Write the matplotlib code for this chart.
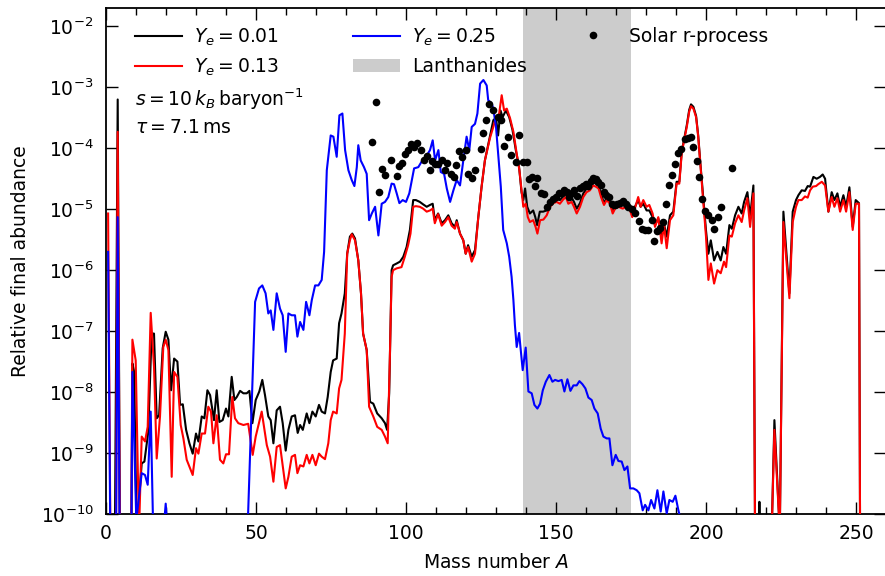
import numpy as np
import matplotlib
matplotlib.use("Agg")
import matplotlib.pyplot as plt
from matplotlib.ticker import MultipleLocator, FixedLocator, NullLocator, LogFormatterMathtext
from matplotlib.lines import Line2D
from matplotlib.patches import Patch

plt.rcParams['font.family'] = ['DejaVu Sans']
plt.rcParams['mathtext.fontset'] = 'dejavusans'

# (mass number A, log10 of relative final abundance)
black_pts = [(0.7,-14),(2.5,-14),(3.9,-3.20),(5.0,-14),(8.0,-14),(8.8,-7.53),(9.4,-7.67),(10.2,-10.3),(11.9,-9.17),(12.8,-9.14),(14.1,-8.65),(15.2,-7.04),(16.0,-7.04),(16.9,-8.43),(17.7,-8.38),(18.9,-7.28),(19.9,-7.01),(20.8,-7.14),(21.7,-7.97),(22.7,-7.45),(23.8,-7.50),(24.7,-8.21),(25.6,-8.20),(26.7,-8.62),(27.8,-8.84),(28.9,-9.01),(30.0,-8.68),(30.8,-8.81),(31.9,-8.40),(32.8,-8.43),(33.8,-7.97),(34.7,-8.05),(36.0,-8.46),(36.9,-7.97),(37.8,-8.49),(38.9,-8.46),(40.0,-8.27),(40.8,-8.40),(41.9,-7.75),(42.8,-8.13),(43.6,-8.08),(44.7,-7.98),(45.8,-8.02),(46.9,-8.02),(47.8,-7.98),(48.8,-8.51),(49.9,-8.13),(51.1,-7.99),(52.1,-7.80),(53.0,-8.05),(54.1,-8.40),(54.9,-8.46),(55.8,-8.84),(56.9,-8.30),(58.0,-8.24),(58.9,-8.51),(59.9,-8.96),(60.8,-8.62),(61.9,-8.40),(63.0,-8.38),(63.9,-8.67),(64.7,-8.54),(65.6,-8.62),(66.9,-8.35),(67.8,-8.51),(68.8,-8.32),(69.9,-8.40),(71.0,-8.21),(71.9,-8.32),(73.0,-8.35),(73.9,-8.08),(74.9,-7.67),(75.7,-7.48),(76.9,-7.45),(77.7,-6.87),(78.5,-6.71),(79.6,-6.38),(80.4,-5.73),(81.3,-5.45),(82.1,-5.40),(83.0,-5.48),(84.1,-5.84),(85.0,-6.38),(85.7,-7.04),(86.9,-7.31),(88.0,-8.16),(89.1,-8.19),(90.4,-8.35),(91.9,-8.43),(93.0,-8.51),(93.7,-8.62),(94.4,-8.02),(95.2,-6.00),(95.7,-5.92),(96.9,-5.89),(98.0,-5.86),(99.1,-5.78),(100.2,-5.62),(101.3,-5.34),(102.4,-4.85),(103.3,-4.85),(104.6,-4.88),(105.7,-4.92),(106.9,-4.96),(108.0,-4.93),(108.9,-4.91),(109.6,-5.18),(110.7,-5.07),(111.9,-5.23),(113.0,-5.18),(114.1,-5.10),(115.2,-5.23),(116.3,-5.29),(116.9,-5.18),(118.0,-5.40),(119.1,-5.51),(119.9,-5.73),(120.7,-5.59),(121.9,-5.78),(123.0,-5.67),(124.1,-5.13),(125.2,-4.63),(126.3,-4.20),(128.0,-3.80),(129.1,-3.54),(130.0,-3.50),(130.7,-3.79),(131.5,-3.38),(132.2,-3.49),(133.3,-3.38),(134.4,-3.49),(135.5,-3.70),(136.6,-4.03),(137.7,-4.31),(138.5,-4.72),(139.1,-4.85),(139.7,-4.66),(140.4,-4.96),(141.3,-5.07),(142.4,-5.02),(143.1,-5.13),(143.7,-5.26),(144.6,-5.04),(145.7,-5.04),(146.9,-5.02),(148.0,-4.91),(149.1,-4.84),(150.2,-4.82),(151.3,-4.85),(152.4,-4.79),(153.3,-4.73),(154.1,-4.84),(155.2,-4.81),(156.0,-4.88),(156.9,-4.99),(158.0,-4.90),(159.1,-4.74),(160.2,-4.66),(161.3,-4.63),(162.4,-4.55),(163.3,-4.58),(164.2,-4.62),(165.0,-4.74),(166.0,-4.91),(166.9,-4.80),(168.0,-4.88),(168.9,-5.02),(169.6,-4.92),(170.7,-4.91),(172.2,-4.93),(173.5,-4.92),(174.6,-4.99),(175.4,-5.07),(176.3,-4.96),(177.4,-4.85),(178.2,-4.96),(179.1,-4.91),(180.2,-5.02),(181.1,-5.02),(182.2,-5.13),(183.0,-5.26),(184.1,-5.15),(185.2,-5.45),(186.0,-5.24),(186.9,-5.45),(188.0,-5.10),(189.1,-5.04),(190.2,-4.55),(191.1,-4.55),(191.9,-4.06),(192.7,-3.85),(193.6,-3.62),(194.4,-3.37),(195.0,-3.28),(195.8,-3.32),(196.7,-3.47),(197.4,-3.79),(198.2,-4.29),(199.1,-4.82),(200.0,-5.35),(200.8,-5.73),(201.6,-5.51),(202.7,-5.84),(203.8,-5.70),(204.9,-5.84),(205.8,-5.62),(206.7,-5.73),(207.8,-5.26),(208.6,-5.32),(209.7,-5.10),(210.8,-4.96),(211.9,-5.07),(212.7,-4.88),(213.8,-4.72),(214.7,-5.13),(215.8,-4.61),(216.7,-14),(217.0,-14),(217.8,-9.80),(218.6,-14),(221.9,-10.3),(222.8,-8.46),(224.6,-10.3),(225.8,-5.04),(227.8,-6.38),(228.9,-5.04),(230.0,-4.85),(230.8,-4.77),(231.9,-4.69),(233.0,-4.70),(233.9,-4.62),(234.7,-4.63),(235.8,-4.47),(236.9,-4.50),(238.0,-4.47),(238.9,-4.43),(239.7,-4.50),(240.8,-5.04),(241.9,-4.72),(242.8,-4.85),(243.8,-4.74),(244.7,-4.96),(245.8,-4.77),(246.7,-4.96),(247.8,-4.64),(248.9,-5.29),(249.9,-4.85),(251.0,-4.90),(251.6,-14)]

red_pts = [(0.7,-5.07),(2.0,-14),(3.0,-14),(3.9,-3.73),(5.0,-14),(8.0,-14),(8.8,-7.14),(9.9,-7.48),(11.0,-10.3),(11.9,-8.73),(13.0,-8.81),(13.9,-8.57),(14.9,-6.70),(16.0,-7.58),(16.9,-9.09),(18.0,-8.40),(19.1,-7.26),(19.9,-7.14),(20.8,-7.31),(21.9,-9.39),(22.7,-7.67),(23.8,-7.75),(24.9,-8.54),(25.8,-8.76),(26.9,-9.11),(28.0,-9.25),(28.9,-9.36),(30.0,-8.92),(30.8,-9.01),(31.9,-8.68),(33.0,-8.68),(34.1,-8.24),(35.0,-8.32),(35.8,-8.84),(36.9,-8.38),(38.0,-9.11),(39.1,-9.17),(40.0,-9.02),(41.0,-9.02),(42.1,-8.08),(43.0,-8.43),(44.1,-8.51),(45.8,-8.54),(47.4,-8.52),(48.9,-9.03),(49.9,-8.73),(51.9,-8.32),(53.6,-8.87),(54.7,-9.06),(55.8,-9.47),(56.9,-8.90),(58.0,-8.87),(59.9,-9.58),(60.8,-9.39),(61.9,-9.06),(63.0,-9.03),(63.8,-9.33),(64.7,-9.20),(65.8,-9.22),(66.9,-9.03),(67.8,-9.17),(68.8,-9.03),(69.9,-9.20),(71.0,-9.01),(71.9,-9.06),(73.0,-9.10),(74.1,-8.84),(74.9,-8.46),(75.7,-8.32),(76.9,-8.35),(77.7,-7.94),(78.5,-7.80),(79.6,-7.04),(80.4,-5.73),(81.3,-5.51),(81.9,-5.41),(83.0,-5.51),(84.1,-5.84),(85.0,-6.38),(85.7,-7.04),(86.9,-7.31),(87.7,-8.24),(89.1,-8.40),(90.4,-8.57),(91.9,-8.62),(93.0,-8.73),(93.9,-8.84),(94.6,-7.48),(95.2,-6.11),(95.7,-6.00),(96.9,-5.97),(98.5,-5.95),(99.6,-5.78),(100.7,-5.59),(101.5,-5.40),(102.4,-4.96),(103.3,-4.95),(104.6,-4.96),(105.7,-4.99),(106.9,-5.04),(108.0,-5.02),(108.9,-4.99),(109.6,-5.23),(110.7,-5.08),(111.9,-5.27),(113.0,-5.21),(114.1,-5.13),(115.2,-5.27),(116.3,-5.32),(116.9,-5.21),(118.0,-5.40),(119.1,-5.51),(119.9,-5.73),(120.7,-5.62),(121.9,-5.86),(123.0,-5.73),(124.1,-5.13),(125.2,-4.63),(126.3,-4.20),(128.0,-3.83),(129.1,-3.65),(130.0,-3.49),(131.0,-3.45),(131.9,-3.13),(132.7,-3.38),(133.6,-3.35),(134.7,-3.51),(135.8,-3.73),(136.9,-4.09),(137.8,-4.36),(138.6,-4.74),(139.1,-4.96),(139.9,-4.91),(140.6,-5.13),(141.3,-5.21),(142.4,-5.18),(143.2,-5.29),(143.8,-5.40),(144.7,-5.18),(145.8,-5.17),(146.9,-5.10),(148.0,-4.96),(149.1,-4.90),(150.2,-4.88),(151.3,-4.91),(152.4,-4.84),(153.3,-4.80),(154.1,-4.91),(155.2,-4.88),(156.0,-4.96),(156.9,-5.07),(158.0,-4.96),(159.1,-4.80),(160.2,-4.72),(161.3,-4.69),(162.4,-4.61),(163.3,-4.63),(164.2,-4.66),(165.0,-4.80),(166.0,-4.93),(166.9,-4.85),(168.0,-4.91),(168.9,-5.07),(169.7,-4.99),(170.8,-4.96),(172.2,-4.99),(173.6,-4.96),(174.7,-5.02),(175.4,-5.13),(176.3,-4.99),(177.4,-4.80),(178.2,-4.96),(179.1,-4.85),(180.2,-4.96),(181.1,-4.93),(182.2,-5.07),(183.0,-5.29),(184.1,-5.13),(185.2,-5.56),(186.0,-5.26),(186.9,-5.64),(188.0,-5.18),(189.1,-5.10),(190.2,-4.58),(191.1,-4.58),(191.9,-4.09),(192.7,-3.87),(193.6,-3.65),(194.4,-3.40),(195.0,-3.31),(195.8,-3.35),(196.7,-3.49),(197.4,-3.81),(198.2,-4.31),(199.1,-4.85),(200.0,-5.45),(200.8,-6.16),(201.6,-5.89),(202.7,-6.22),(203.8,-6.00),(204.9,-6.05),(206.0,-5.86),(206.7,-5.95),(207.8,-5.43),(208.6,-5.45),(209.7,-5.23),(210.8,-5.10),(211.9,-5.21),(212.7,-5.02),(213.8,-4.82),(214.7,-5.29),(215.8,-4.74),(216.7,-14),(221.9,-10.3),(222.8,-8.62),(224.6,-10.3),(225.8,-5.21),(227.8,-6.46),(228.9,-5.21),(230.0,-4.96),(230.8,-4.85),(231.9,-4.85),(233.0,-4.79),(233.9,-4.81),(234.7,-4.69),(235.6,-4.63),(236.7,-4.62),(237.4,-4.59),(238.6,-4.55),(239.7,-4.61),(240.8,-5.04),(241.9,-4.80),(242.8,-4.96),(243.8,-4.82),(244.7,-5.04),(245.8,-4.85),(246.7,-5.04),(247.8,-4.72),(248.9,-5.34),(249.9,-4.91),(251.0,-4.91),(251.6,-14)]

blue_pts = [(0.7,-5.70),(2.0,-14),(3.0,-14),(3.9,-5.13),(5.0,-14),(8.0,-14),(8.8,-7.67),(10.1,-10.1),(11.9,-9.33),(13.0,-9.36),(13.9,-9.52),(14.9,-8.32),(15.7,-10.2),(19.3,-10.2),(19.9,-9.83),(20.4,-10.2),(47.3,-10.1),(49.7,-6.52),(51.0,-6.30),(52.1,-6.25),(53.2,-6.38),(54.1,-6.71),(54.9,-6.66),(55.8,-6.98),(56.9,-6.38),(58.0,-6.63),(58.9,-6.74),(59.9,-7.34),(60.8,-6.71),(61.9,-6.74),(63.0,-6.74),(63.8,-7.09),(64.7,-6.85),(65.8,-6.98),(66.7,-6.52),(67.8,-6.74),(68.6,-6.49),(69.7,-6.25),(70.8,-6.25),(71.9,-6.16),(72.7,-5.70),(73.6,-4.36),(74.9,-3.79),(75.8,-3.81),(76.9,-4.14),(77.8,-3.46),(78.8,-3.43),(79.7,-4.03),(80.8,-4.36),(81.9,-4.52),(82.8,-4.62),(83.6,-4.31),(84.1,-3.95),(84.9,-4.20),(86.0,-4.31),(86.9,-4.42),(87.7,-5.18),(88.6,-5.07),(89.7,-4.96),(90.8,-5.43),(91.9,-4.91),(93.0,-4.88),(94.1,-4.80),(95.2,-4.58),(96.0,-4.59),(96.9,-4.74),(97.8,-4.90),(98.9,-4.85),(100.0,-4.88),(101.1,-4.74),(102.7,-4.33),(104.1,-4.31),(105.2,-4.22),(106.3,-4.17),(108.0,-4.03),(108.9,-3.87),(109.7,-4.20),(110.8,-4.03),(111.6,-4.39),(112.7,-4.42),(113.6,-4.66),(114.7,-4.88),(115.8,-4.69),(116.9,-4.52),(118.0,-4.61),(119.1,-4.20),(120.2,-3.81),(121.1,-4.03),(121.9,-3.65),(123.0,-3.60),(123.8,-3.43),(124.7,-2.94),(125.8,-2.88),(126.9,-2.97),(127.4,-3.21),(128.6,-3.27),(129.1,-3.35),(130.0,-3.65),(130.8,-4.14),(131.6,-4.63),(132.4,-5.34),(133.6,-5.56),(134.4,-5.78),(135.2,-6.11),(135.8,-6.49),(136.3,-6.90),(136.9,-7.26),(137.7,-7.03),(138.9,-7.64),(139.9,-7.27),(140.8,-7.99),(141.9,-8.02),(142.8,-8.21),(143.8,-8.27),(144.7,-8.19),(145.6,-7.97),(146.6,-7.83),(147.8,-7.72),(148.8,-7.83),(149.7,-7.80),(150.8,-7.82),(151.9,-7.80),(152.8,-7.99),(153.8,-7.79),(154.8,-7.98),(155.8,-7.89),(156.9,-7.89),(157.8,-7.82),(158.8,-7.87),(159.8,-7.94),(160.8,-8.09),(161.9,-8.13),(162.8,-8.27),(163.9,-8.35),(164.9,-8.60),(165.8,-8.73),(166.9,-8.76),(167.8,-8.76),(168.8,-9.20),(169.9,-9.03),(170.8,-9.13),(171.9,-9.14),(172.8,-9.28),(173.8,-9.22),(174.7,-9.58),(175.8,-9.58),(176.9,-9.61),(177.8,-9.66),(178.9,-9.94),(179.7,-9.85),(180.8,-9.94),(181.7,-9.77),(182.8,-9.91),(183.8,-9.61),(184.9,-9.96),(185.8,-9.63),(186.9,-9.99),(187.8,-9.77),(188.9,-9.80),(189.8,-9.70),(190.8,-9.94),(191.6,-10.1),(192.5,-14)]

solar_pts = [(88.7,-3.89),(90.0,-3.24),(90.9,-4.72),(91.9,-4.34),(93.0,-4.44),(94.9,-4.20),(96.9,-4.45),(97.7,-4.29),(98.5,-4.24),(99.8,-4.09),(100.7,-4.03),(101.7,-3.93),(102.8,-3.98),(103.8,-3.92),(104.9,-4.03),(106.1,-4.19),(106.9,-4.13),(107.9,-4.35),(108.8,-4.21),(109.6,-4.26),(110.5,-4.26),(111.9,-4.20),(112.9,-4.35),(113.8,-4.24),(114.9,-4.42),(115.9,-4.47),(116.8,-4.28),(117.7,-4.04),(118.8,-4.15),(119.9,-4.03),(120.7,-4.43),(121.9,-4.48),(123.0,-4.36),(124.9,-4.02),(125.7,-3.75),(126.7,-3.53),(127.7,-3.28),(128.9,-3.37),(130.5,-3.49),(131.6,-3.53),(132.7,-3.97),(133.9,-3.81),(134.9,-4.11),(136.7,-4.22),(137.7,-3.79),(138.9,-4.22),(140.2,-4.22),(140.9,-4.51),(142.0,-4.47),(143.0,-4.62),(143.8,-4.48),(144.9,-4.74),(145.9,-4.75),(146.9,-4.96),(148.0,-4.88),(148.9,-4.83),(150.0,-4.80),(150.9,-4.73),(151.9,-4.74),(152.7,-4.68),(153.5,-4.72),(154.2,-4.80),(155.2,-4.74),(156.0,-4.69),(156.9,-4.79),(158.0,-4.66),(159.1,-4.62),(160.0,-4.59),(160.7,-4.62),(161.5,-4.53),(162.4,-4.48),(163.3,-4.51),(164.1,-4.55),(165.0,-4.61),(165.9,-4.72),(166.8,-4.76),(167.7,-4.80),(168.6,-4.92),(169.6,-4.93),(170.4,-4.91),(171.3,-4.90),(172.2,-4.86),(173.2,-4.92),(174.0,-4.96),(175.2,-4.99),(176.4,-5.07),(177.5,-5.20),(178.6,-5.33),(179.6,-5.34),(180.7,-5.34),(181.9,-5.18),(182.7,-5.52),(183.7,-5.35),(184.6,-5.30),(185.6,-5.21),(186.8,-4.92),(187.7,-4.60),(188.8,-4.44),(189.8,-4.26),(190.6,-4.08),(191.7,-4.02),(193.0,-3.84),(193.9,-3.83),(194.9,-3.81),(195.7,-3.98),(196.9,-4.21),(197.7,-4.47),(198.8,-4.83),(199.6,-5.03),(200.7,-5.10),(201.9,-5.17),(202.7,-5.32),(203.9,-5.13),(204.9,-4.96),(208.8,-4.32)]

lanthanide_range = (139, 175)
xlim = (0, 260)
ylim = (1e-10, 2e-2)
y_ticks = [1e-10, 1e-9, 1e-8, 1e-7, 1e-6, 1e-5, 1e-4, 1e-3, 1e-2]
series_labels = [r'$Y_e = 0.01$', r'$Y_e = 0.13$', r'$Y_e = 0.25$']
series_colors = ['black', '#ff0000', '#0000ff']

W, H = 885, 576
fig = plt.figure(figsize=(W/100, H/100), dpi=100)
ax = fig.add_axes([106/W, (H-514)/H, 780/W, 506/H])

def arr(pts):
    a = np.array(pts, dtype=float)
    return a[:, 0], 10.0 ** a[:, 1]

ax.axvspan(*lanthanide_range, color='#cccccc', lw=0, zorder=0)
lines = []
for pts, col, lab, z in zip([black_pts, red_pts, blue_pts], series_colors, series_labels, [2, 3, 4]):
    x, y = arr(pts)
    ln, = ax.plot(x, y, color=col, lw=1.5, label=lab, zorder=z)
    lines.append(ln)
xs, ys = arr(solar_pts)
ax.plot(xs, ys, 'o', color='black', ms=5.5, mec='none', zorder=5)

ax.set_yscale('log')
ax.set_xlim(*xlim)
ax.set_ylim(*ylim)
ax.xaxis.set_major_locator(MultipleLocator(50))
ax.xaxis.set_minor_locator(MultipleLocator(10))
ax.yaxis.set_major_locator(FixedLocator(y_ticks))
ax.yaxis.set_major_formatter(LogFormatterMathtext())
ax.yaxis.set_minor_locator(NullLocator())
ax.tick_params(which='both', direction='in', top=True, right=True, width=1.0)
ax.tick_params(which='major', length=8.5, labelsize=13.5)
ax.tick_params(which='minor', length=5)
ax.tick_params(axis='y', which='major', pad=9)
ax.tick_params(axis='x', which='major', pad=7)
for s in ax.spines.values():
    s.set_linewidth(1.3)

ax.set_xlabel(r'Mass number $A$', fontsize=13.5)
ax.set_ylabel('Relative final abundance', fontsize=13.5)
ax.xaxis.set_label_coords(0.5, (514-553)/506)
ax.yaxis.set_label_coords((30-106)/780, 0.5)

def figpt(px, py):
    return (px/W, 1 - py/H)

fs = 13.5
common = dict(frameon=False, loc='upper left', borderpad=0, borderaxespad=0,
              handlelength=2.5, handletextpad=0.65, labelspacing=0.45, fontsize=fs,
              bbox_transform=fig.transFigure)
leg1 = ax.legend(handles=lines[:2], bbox_to_anchor=figpt(135, 27), **common)
ax.add_artist(leg1)
lan = Patch(facecolor='#cccccc', edgecolor='none', label='Lanthanides')
leg2 = ax.legend(handles=[lines[2], lan], bbox_to_anchor=figpt(353, 27), **common)
ax.add_artist(leg2)
sol = Line2D([], [], ls='none', marker='o', color='black', ms=5.5, mec='none', label='Solar r-process')
leg3 = ax.legend(handles=[sol], bbox_to_anchor=figpt(570, 27), **common)

fig.text(*figpt(135, 106), r'$s = 10\,k_B\,\mathrm{baryon}^{-1}$', fontsize=fs, va='baseline')
fig.text(*figpt(135, 133), r'$\tau = 7.1\,\mathrm{ms}$', fontsize=fs, va='baseline')

fig.savefig('out.png', dpi=100)
